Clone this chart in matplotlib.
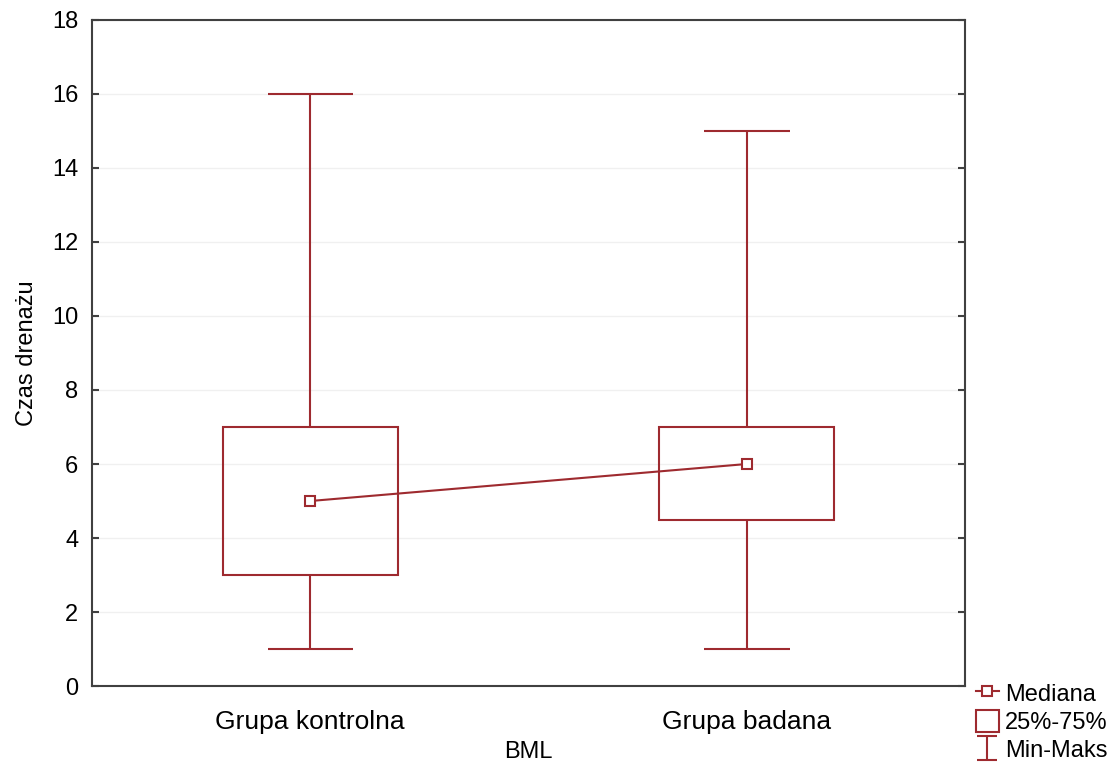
import matplotlib.pyplot as plt
import numpy as np
from matplotlib import rc

GROUPS = ("Grupa kontrolna", "Grupa badana")
MIN_VAL = [1, 1]
Q1 = [3, 4.5]
MEDIAN = [5, 6]
Q3 = [7, 7]
MAX_VAL = [16, 15]
Y_TICKS = list(range(0, 19, 2))

COLOR = "#9E2A2F"


def main():
    rc('font', **{'family': 'sans-serif', 'sans-serif': ['Liberation Sans', 'DejaVu Sans']})
    fig = plt.figure(figsize=(11.13, 7.64), dpi=100)
    ax = fig.add_axes([0.0827, 0.102, 0.7843, 0.872])

    pos = np.arange(len(GROUPS))
    q1 = np.array(Q1)
    q3 = np.array(Q3)

    ax.bar(pos, q3 - q1, bottom=q1, width=0.4, fill=False, edgecolor=COLOR, lw=1.5,
           label="25%-75%", zorder=3)
    ax.vlines(pos, q3, MAX_VAL, color=COLOR, lw=1.5, zorder=3)
    ax.vlines(pos, MIN_VAL, q1, color=COLOR, lw=1.5, zorder=3)
    ax.hlines(MAX_VAL, pos - 0.098, pos + 0.098, color=COLOR, lw=1.5, zorder=3)
    ax.hlines(MIN_VAL, pos - 0.098, pos + 0.098, color=COLOR, lw=1.5, zorder=3)
    ax.plot(pos, MEDIAN, '-s', color=COLOR, lw=1.5, ms=7, mfc='white', mec=COLOR, mew=1.5,
            label="Mediana", zorder=4)
    # dummy handle for the legend only
    ax.errorbar([np.nan], [np.nan], yerr=[[1], [1]], fmt='none', ecolor=COLOR, elinewidth=1.5,
                capsize=7, capthick=1.5, label="Min-Maks")

    ax.set_xlim(-0.5, 1.5)
    ax.set_ylim(0, 18)
    ax.set_yticks(Y_TICKS)
    ax.set_xticks(pos)
    ax.set_xticklabels(GROUPS)
    ax.tick_params(axis='y', labelsize=17, direction='in', length=5, width=1.5, color='#404040',
                   right=True, pad=10)
    ax.tick_params(axis='x', labelsize=19, length=0, pad=17)
    ax.set_xlabel("BML", fontsize=17, labelpad=5)
    ax.set_ylabel("Czas drenażu", fontsize=17, labelpad=10)
    ax.yaxis.grid(True, color='#f0f0f0', lw=1)
    for sp in ax.spines.values():
        sp.set_color('#404040')
        sp.set_linewidth(1.5)

    handles, labels = ax.get_legend_handles_labels()
    order = [labels.index(k) for k in ("Mediana", "25%-75%", "Min-Maks")]
    fig.legend([handles[i] for i in order], [labels[i] for i in order],
               loc='upper left', bbox_to_anchor=(0.868, 0.12), frameon=False, fontsize=17,
               handlelength=1.0, handleheight=1.05, handletextpad=0.25, labelspacing=0.18,
               borderaxespad=0)

    fig.savefig('out.png', dpi=100)
    plt.close()


if __name__ == '__main__':
    main()
